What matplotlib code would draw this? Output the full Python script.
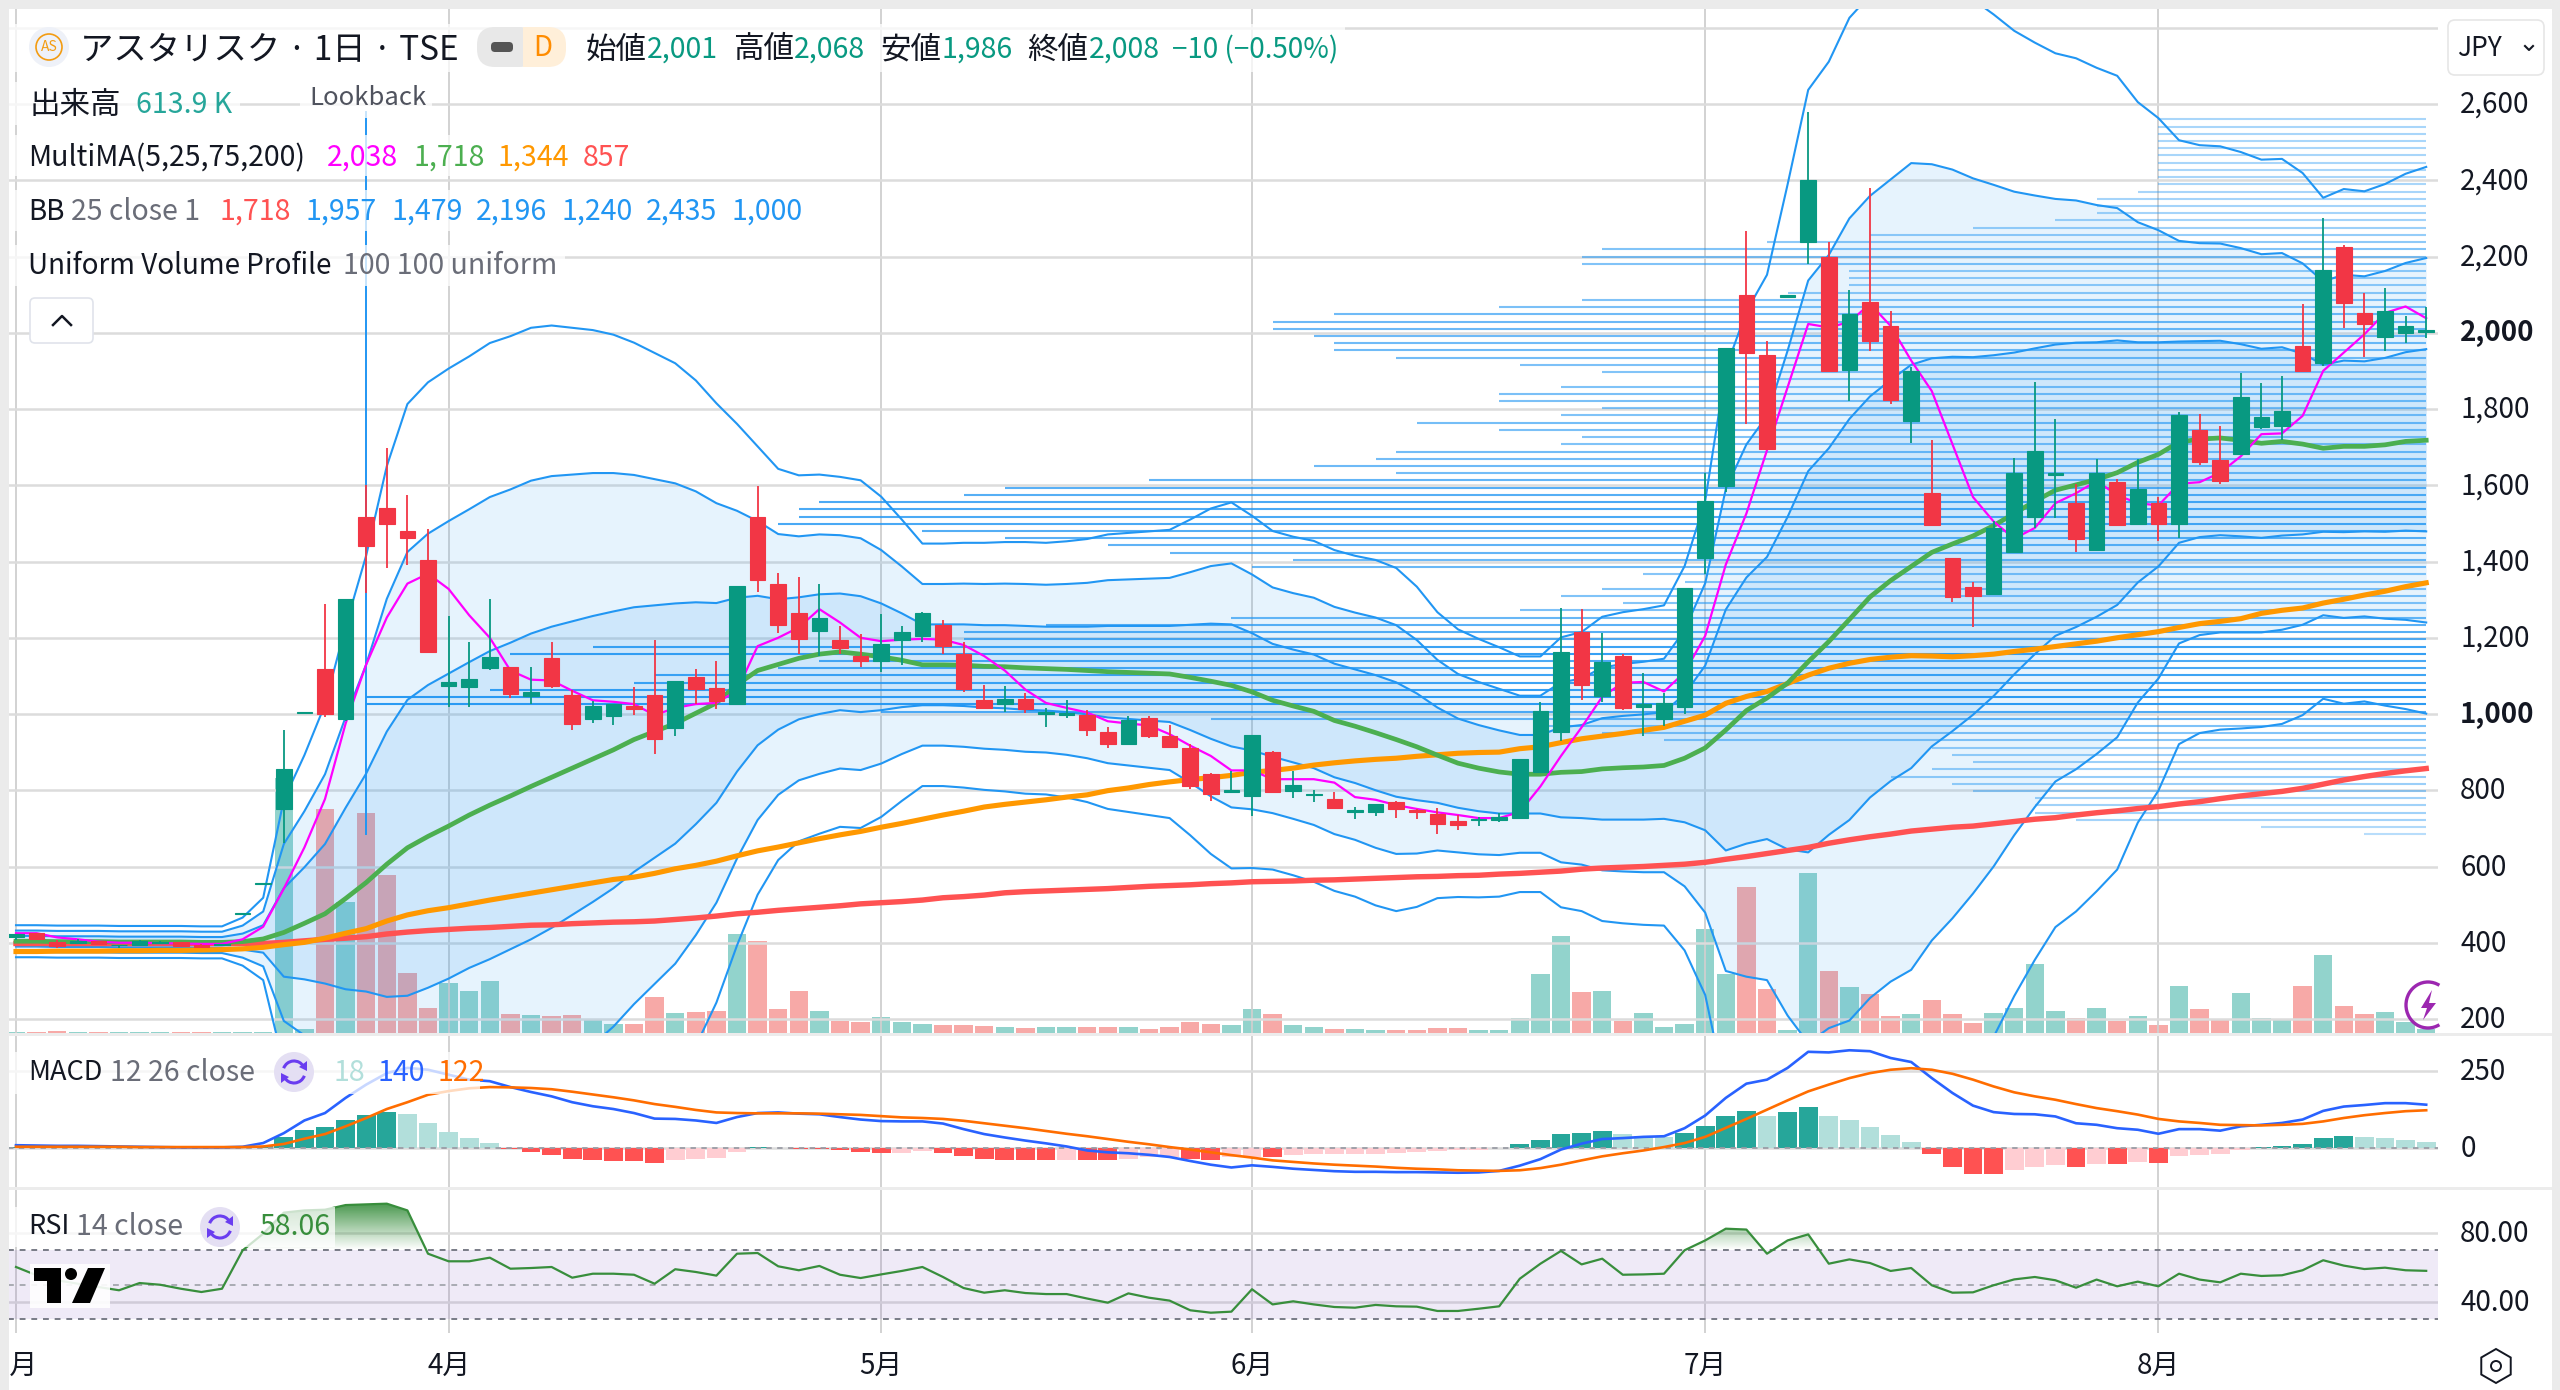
import numpy as np
import matplotlib
matplotlib.use('Agg')
import matplotlib.pyplot as plt
from matplotlib.colors import LinearSegmentedColormap
from matplotlib.patches import Rectangle, Circle, Arc, FancyBboxPatch, Polygon, RegularPolygon
from matplotlib.path import Path
from matplotlib.transforms import ScaledTranslation

plt.rcParams['font.family'] = ['Noto Sans CJK JP', 'DejaVu Sans']

month_bars = [0, 21, 42, 60, 82, 104]
month_labels = ['3月', '4月', '5月', '6月', '7月', '8月']

opens = [414, 426, 403, 399, 405, 393, 394, 400, 402, 393, 395, 475, 554, 751, 1002, 1118, 988, 1517, 1541, 1480,
         1404, 1074, 1071, 1120, 1122, 1047, 1148, 1051, 986, 994, 1021, 1051, 963, 1098, 1067, 1026, 1517, 1341, 1266, 1219,
         1194, 1151, 1139, 1194, 1204, 1233, 1157, 1037, 1026, 1040, 1001, 997, 997, 952, 921, 989, 943, 910, 842, 796,
         784, 901, 799, 787, 778, 742, 743, 770, 748, 737, 719, 721, 721, 727, 849, 954, 1214, 1046, 1151, 1019,
         988, 1018, 1408, 1599, 2098, 1941, 2095, 2238, 2199, 1902, 2081, 2019, 1768, 1579, 1408, 1334, 1315, 1424, 1517, 1628,
         1553, 1430, 1608, 1499, 1553, 1499, 1745, 1665, 1681, 1753, 1756, 1964, 1921, 2225, 2051, 1990, 1999, 2001]
highs = [423, 426, 408, 409, 405, 395, 407, 404, 402, 398, 397, 479, 558, 957, 1006, 1288, 1302, 1601, 1697, 1574,
         1486, 1256, 1188, 1302, 1122, 1122, 1188, 1062, 1034, 1026, 1071, 1195, 1087, 1119, 1138, 1336, 1599, 1371, 1359, 1341,
         1231, 1211, 1262, 1231, 1267, 1247, 1188, 1077, 1074, 1054, 1016, 1036, 1011, 965, 994, 994, 970, 921, 845, 850,
         944, 904, 850, 801, 795, 756, 764, 772, 751, 754, 735, 730, 740, 881, 1032, 1279, 1275, 1213, 1158, 1107,
         1054, 1331, 1633, 1959, 2266, 1979, 2100, 2579, 2238, 2111, 2379, 2058, 1911, 1718, 1408, 1346, 1505, 1672, 1872, 1774,
         1603, 1668, 1617, 1668, 1569, 1793, 1788, 1755, 1895, 1868, 1887, 2076, 2301, 2231, 2103, 2117, 2044, 2068]
lows = [407, 409, 387, 398, 398, 385, 392, 399, 392, 390, 392, 475, 554, 662, 1002, 991, 981, 1318, 1382, 1390,
        1163, 1018, 1019, 1116, 1041, 1026, 1068, 958, 976, 971, 998, 894, 943, 1027, 1013, 1026, 1321, 1213, 1157, 1152,
        1157, 1122, 1110, 1128, 1188, 1157, 1057, 1015, 1004, 1003, 967, 989, 941, 911, 921, 937, 911, 804, 772, 792,
        733, 796, 780, 768, 754, 724, 732, 727, 725, 685, 695, 706, 718, 727, 844, 929, 1036, 1031, 1010, 943,
        969, 999, 1366, 1582, 1761, 1695, 2095, 2181, 1900, 1820, 1953, 1812, 1711, 1497, 1293, 1229, 1312, 1424, 1489, 1515,
        1424, 1430, 1494, 1499, 1454, 1462, 1654, 1603, 1681, 1748, 1720, 1900, 1913, 2012, 1937, 1953, 1973, 1986]
closes = [423, 409, 392, 405, 398, 395, 404, 403, 392, 390, 397, 479, 558, 856, 1006, 1001, 1302, 1441, 1499, 1461,
          1163, 1085, 1093, 1150, 1052, 1058, 1074, 974, 1020, 1026, 1012, 935, 1087, 1066, 1035, 1336, 1352, 1234, 1198, 1251,
          1172, 1139, 1184, 1216, 1264, 1179, 1066, 1017, 1040, 1012, 1004, 1002, 958, 921, 985, 941, 913, 810, 789, 800,
          944, 796, 813, 790, 754, 747, 764, 750, 744, 711, 710, 724, 730, 881, 1009, 1162, 1076, 1137, 1017, 1025,
          1029, 1331, 1560, 1959, 1948, 1695, 2098, 2400, 1900, 2050, 1978, 1823, 1900, 1497, 1307, 1309, 1489, 1631, 1689, 1631,
          1459, 1633, 1497, 1591, 1499, 1785, 1662, 1611, 1831, 1778, 1795, 1900, 2164, 2079, 2024, 2057, 2018, 2008]

# volume in thousands of shares
volumes = [225, 225, 375, 225, 225, 225, 225, 225, 225, 225, 225, 225, 225, 38250, 600, 33600, 19650, 33000, 23700, 9000,
           3750, 7500, 6300, 7800, 2850, 2700, 2550, 2700, 1950, 1350, 1350, 5400, 3000, 3150, 3300, 14850, 13800, 3600, 6300, 3300,
           1800, 1650, 2400, 1650, 1350, 1200, 1200, 1050, 900, 750, 975, 900, 900, 975, 900, 675, 900, 1650, 1350, 1200,
           3600, 2850, 1200, 900, 675, 675, 450, 525, 450, 750, 750, 450, 450, 2250, 8850, 14550, 6150, 6300, 1800, 3000,
           900, 1350, 15600, 8850, 21900, 6600, 450, 24000, 9300, 6900, 5850, 2550, 2850, 4950, 2850, 1500, 3000, 3750, 10350, 3300,
           2250, 3750, 1800, 2550, 1200, 7050, 3600, 1950, 6000, 2250, 1950, 7050, 11700, 4050, 2850, 3150, 1650, 614]

ma5 = [425, 425, 414, 409, 403, 400, 400, 399, 398, 397, 397, 409, 442, 542, 650, 777, 975, 1130, 1253, 1342,
       1368, 1328, 1259, 1200, 1114, 1090, 1088, 1061, 1036, 1032, 1026, 997, 1016, 1026, 1029, 1061, 1178, 1200, 1227, 1275,
       1240, 1200, 1191, 1195, 1197, 1195, 1181, 1152, 1114, 1064, 1029, 1016, 1004, 981, 975, 970, 947, 917, 890, 852,
       852, 829, 829, 829, 820, 782, 775, 761, 751, 742, 735, 727, 727, 743, 810, 890, 965, 1045, 1082, 1084,
       1059, 1109, 1205, 1392, 1526, 1692, 1857, 2023, 2014, 2028, 2076, 2018, 1927, 1847, 1708, 1569, 1505, 1460, 1488, 1553,
       1579, 1611, 1574, 1553, 1547, 1604, 1608, 1633, 1676, 1734, 1736, 1782, 1900, 1948, 1996, 2052, 2069, 2038]
ma25 = [404, 404, 403, 403, 403, 402, 402, 402, 402, 401, 401, 403, 410, 427, 451, 476, 516, 558, 606, 649,
        679, 706, 735, 761, 785, 810, 834, 858, 882, 906, 933, 954, 975, 1002, 1029, 1077, 1114, 1130, 1146, 1157,
        1163, 1157, 1150, 1141, 1129, 1129, 1128, 1125, 1124, 1121, 1119, 1117, 1114, 1111, 1109, 1107, 1105, 1096, 1086, 1075,
        1058, 1036, 1021, 1007, 983, 968, 951, 933, 914, 892, 871, 858, 848, 842, 842, 847, 849, 856, 859, 861,
        865, 884, 911, 958, 1009, 1042, 1081, 1137, 1190, 1248, 1307, 1350, 1387, 1424, 1446, 1467, 1494, 1526, 1558, 1587,
        1601, 1615, 1633, 1660, 1681, 1713, 1721, 1724, 1718, 1710, 1715, 1708, 1697, 1702, 1702, 1706, 1715, 1718]
ma75 = [377, 377, 378, 378, 378, 379, 379, 380, 380, 381, 382, 384, 388, 395, 401, 412, 425, 437, 457, 473,
        484, 492, 502, 512, 521, 530, 539, 548, 557, 566, 572, 582, 594, 603, 614, 628, 641, 651, 662, 673,
        683, 692, 703, 713, 724, 735, 745, 756, 763, 769, 775, 782, 788, 799, 806, 815, 822, 828, 833, 839,
        847, 852, 858, 866, 872, 877, 881, 884, 889, 893, 897, 899, 900, 909, 914, 925, 935, 942, 949, 957,
        965, 981, 997, 1028, 1046, 1059, 1080, 1102, 1120, 1133, 1143, 1149, 1153, 1152, 1150, 1153, 1157, 1164, 1170, 1177,
        1184, 1191, 1200, 1208, 1216, 1227, 1237, 1243, 1250, 1264, 1272, 1278, 1291, 1301, 1312, 1322, 1334, 1344]
ma200 = [398, 398, 398, 398, 398, 398, 398, 398, 398, 398, 398, 398, 398, 401, 405, 409, 412, 416, 423, 428,
         432, 435, 438, 440, 443, 446, 447, 450, 452, 454, 455, 457, 461, 465, 470, 476, 480, 485, 489, 493,
         497, 502, 505, 508, 512, 518, 521, 525, 531, 534, 536, 538, 540, 542, 545, 548, 550, 552, 555, 557,
         560, 561, 562, 564, 565, 567, 569, 571, 573, 574, 576, 577, 580, 582, 585, 588, 593, 596, 598, 600,
         603, 606, 611, 619, 626, 634, 642, 650, 661, 670, 678, 685, 693, 698, 703, 706, 712, 718, 724, 728,
         735, 741, 746, 752, 757, 764, 770, 778, 785, 791, 797, 805, 816, 827, 836, 844, 851, 857]
# one standard deviation of the 25-bar bands
bb_sigma = [14, 14, 14, 14, 14, 14, 14, 14, 14, 14, 14, 21, 36, 116, 147, 183, 238, 286, 348, 388,
            397, 400, 401, 404, 402, 401, 395, 385, 375, 363, 347, 331, 315, 291, 262, 228, 196, 171, 160, 157,
            153, 152, 140, 123, 106, 106, 107, 108, 109, 110, 110, 112, 115, 120, 122, 124, 126, 138, 151, 160,
            154, 148, 148, 149, 149, 149, 151, 150, 140, 125, 117, 113, 109, 103, 103, 118, 122, 133, 136, 138,
            140, 168, 216, 316, 349, 370, 436, 500, 507, 526, 526, 526, 529, 509, 491, 469, 447, 422, 401, 382,
            373, 360, 347, 315, 294, 264, 257, 255, 252, 248, 247, 237, 219, 225, 223, 228, 234, 239]

macd_line = [9, 8, 7, 7, 6, 5, 4, 3, 2, 2, 2, 4, 16, 48, 89, 113, 162, 205, 242, 259,
             253, 237, 221, 216, 197, 181, 167, 148, 135, 126, 113, 95, 94, 89, 81, 100, 113, 115, 111, 109,
             100, 92, 87, 86, 86, 79, 61, 45, 34, 24, 15, 5, -8, -14, -17, -22, -29, -42, -54, -63,
             -56, -61, -67, -71, -75, -77, -77, -78, -78, -79, -80, -79, -74, -57, -36, -5, 14, 29, 32, 36,
             38, 64, 105, 162, 208, 221, 259, 311, 309, 316, 313, 291, 278, 226, 178, 137, 116, 110, 109, 102,
             80, 75, 64, 59, 46, 61, 61, 56, 70, 75, 81, 92, 120, 134, 139, 145, 145, 140]
macd_signal = [4, 4, 4, 4, 4, 4, 3, 3, 3, 3, 3, 3, 5, 13, 30, 45, 70, 97, 126, 148,
               172, 184, 193, 197, 196, 194, 190, 182, 173, 164, 154, 142, 133, 123, 115, 113, 112, 112, 112, 111,
               109, 107, 103, 99, 97, 94, 88, 80, 72, 64, 55, 46, 38, 29, 20, 12, 3, -5, -14, -23,
               -31, -40, -45, -50, -54, -57, -60, -64, -67, -69, -72, -73, -74, -72, -65, -54, -40, -27, -17, -8,
               3, 16, 36, 65, 94, 124, 154, 183, 205, 226, 242, 253, 258, 253, 240, 221, 199, 180, 167, 156,
               142, 129, 119, 108, 94, 86, 81, 75, 74, 73, 75, 78, 86, 97, 106, 113, 119, 122]
macd_hist = [2, 2, 1, 1, 1, -1, -1, -1, -1, -1, -1, 1, 6, 36, 59, 68, 92, 108, 116, 111,
             81, 53, 33, 17, -3, -14, -23, -34, -40, -41, -43, -48, -40, -34, -33, -14, 3, 1, -2, -3,
             -8, -14, -17, -16, -11, -17, -26, -34, -38, -39, -40, -38, -39, -40, -34, -29, -28, -37, -38, -29,
             -28, -30, -22, -21, -20, -20, -18, -15, -12, -11, -8, -6, -1, 12, 27, 46, 50, 56, 46, 38,
             36, 50, 70, 105, 121, 105, 116, 134, 105, 91, 68, 41, 20, -20, -61, -84, -85, -72, -61, -55,
             -61, -52, -53, -46, -47, -26, -23, -19, -8, 2, 5, 12, 32, 38, 34, 32, 26, 18]
rsi = [60.3, 55.5, 52.6, 50.6, 48.7, 46.8, 51.0, 50.0, 47.7, 45.8, 47.7, 69.9, 79.6, 91.8, 93.1, 93.5, 96.2, 96.6, 97.0, 93.1,
       68.0, 63.6, 63.6, 65.7, 59.3, 59.7, 60.3, 54.1, 56.4, 56.4, 55.8, 50.6, 59.0, 57.4, 55.3, 68.0, 68.4, 60.7, 58.4, 60.9,
       55.8, 53.9, 56.0, 58.0, 60.3, 54.5, 48.1, 45.4, 46.8, 45.2, 44.6, 44.6, 42.0, 39.6, 45.0, 42.5, 40.8, 35.2, 33.8, 34.4,
       47.4, 38.6, 40.4, 38.6, 37.1, 36.7, 38.3, 37.5, 37.3, 34.8, 34.8, 36.1, 37.5, 53.5, 62.2, 69.6, 61.8, 65.1, 55.8, 56.0,
       56.4, 70.0, 75.7, 82.5, 82.0, 68.0, 75.7, 79.2, 62.2, 64.7, 62.6, 58.0, 59.7, 49.7, 45.4, 45.6, 49.7, 53.1, 54.5, 52.6,
       48.3, 53.0, 49.1, 51.8, 49.1, 56.4, 53.0, 51.4, 56.4, 55.1, 55.5, 58.4, 64.2, 61.1, 59.1, 59.9, 58.4, 58.06]

# uniform profile, lowest row first, row length in bars
vp_volume = [3, 8, 17, 19, 19, 19, 22, 23, 26, 24, 22, 23, 24, 37, 40, 43, 59, 75, 100, 100,
             94, 87, 86, 80, 78, 93, 89, 71, 71, 67, 58, 44, 39, 42, 40, 36, 38, 57, 55, 61,
             64, 69, 73, 80, 79, 79, 78, 71, 69, 62, 50, 54, 51, 50, 42, 41, 45, 49, 42, 40,
             45, 45, 42, 33, 40, 44, 50, 53, 53, 54, 56, 56, 53, 45, 41, 31, 28, 28, 28, 41,
             41, 40, 32, 27, 22, 18, 16, 16, 16, 14, 13, 13, 13, 13, 13, 13, 13, 13, 13, 13]
vp_low = 684.5
vp_high = 2578.6
lookback_bar = 17

price_ticks = list(range(200, 2801, 200))

UP = '#089981'
DOWN = '#F23645'
BLUE = '#2196F3'
GRID = '#dcdcdc'
VGRID = '#cfcfcf'
GREY = '#6a6d78'

o, h, l, c = map(np.array, (opens, highs, lows, closes))
x = np.arange(len(closes))
mid = np.array(ma25, dtype=float)
sigma = np.array(bb_sigma, dtype=float)
rsi_arr = np.array(rsi)
W, H = 2560, 1390


def pane(top, bottom):
    return fig.add_axes([8 / W, 1 - bottom / H, 2430 / W, (bottom - top) / H])


fig = plt.figure(figsize=(W / 100, H / 100), dpi=100, facecolor='white')
ax_vol = pane(9, 1033)
ax = pane(9, 1033)
ax_macd = pane(1036, 1188)
ax_rsi = pane(1189, 1333)

x_lo, x_hi = (8 - 16) / 20.6, (2438 - 16) / 20.6
for a in (ax, ax_macd, ax_rsi):
    a.set_xlim(x_lo, x_hi)
    for s in a.spines.values():
        s.set_visible(False)
    a.yaxis.tick_right()
    a.set_axisbelow(True)
    a.set_xticks(month_bars)
    a.grid(axis='x', color=VGRID, lw=1.3, zorder=0)
    a.grid(axis='y', color=GRID, lw=1.8, zorder=0)
    a.tick_params(length=0, labelbottom=False, labelright=True, labelsize=20, pad=16, labelcolor='#131722')

# main pane
ax.set_ylim(2600 - (1033 - 104) / 0.38125, 2600 + (104 - 9) / 0.38125)
ax.set_yticks(price_ticks)
ax.set_yticklabels(['' if p == 2800 else f'{p:,}' for p in price_ticks])
for lab, p in zip(ax.get_yticklabels(), price_ticks):
    if p in (1000, 2000):
        lab.set_fontweight('bold')

ax_vol.set_xlim(x_lo, x_hi)
ax_vol.set_ylim(0, 1024 * 150)
ax_vol.axis('off')
ax_vol.set_zorder(1)
ax.set_zorder(2)
ax.patch.set_visible(False)
vol_col = ['#92D3CC' if cl >= op else '#F7A9A7' for op, cl in zip(opens, closes)]
ax_vol.bar(x, volumes, width=0.9, color=vol_col)

# bollinger bands
ax.fill_between(x, mid + 2 * sigma, mid - 2 * sigma, color=BLUE, alpha=0.11, lw=0, zorder=1)
ax.fill_between(x, mid + sigma, mid - sigma, color=BLUE, alpha=0.12, lw=0, zorder=1)
for k in (1, 2, 3):
    ax.plot(x, mid + k * sigma, color=BLUE, lw=1.5, zorder=2)
    ax.plot(x, mid - k * sigma, color=BLUE, lw=1.5, zorder=2)

# volume profile rows
vp_rows = np.linspace(vp_low, vp_high, len(vp_volume) + 1)[:-1]
vp_max = max(vp_volume)
for row, vol in zip(vp_rows, vp_volume):
    ax.plot([x[-1] - vol, x[-1]], [row, row], color=BLUE, lw=1.5, alpha=0.3 + 0.65 * vol / vp_max,
            solid_capstyle='butt', zorder=3)
ax.plot([lookback_bar, lookback_bar], [vp_low, vp_high], color=BLUE, lw=1.4, zorder=3)

# moving averages
ax.plot(x, ma200, color='#FF5252', lw=3.9, zorder=4)
ax.plot(x, ma75, color='#FF9800', lw=3.7, zorder=4)
ax.plot(x, ma25, color='#4CAF50', lw=3.4, zorder=4)
ax.plot(x, ma5, color='#FF00FF', lw=1.6, zorder=4)

# candles
col = [UP if cl >= op else DOWN for op, cl in zip(opens, closes)]
ax.vlines(x, l, h, colors=col, lw=1.3, zorder=5)
ax.bar(x, np.abs(c - o), bottom=np.minimum(o, c), width=0.76, color=col, edgecolor=col, lw=0.8, zorder=5)

# macd pane
ax_macd.set_ylim(-(1188 - 1148) * 3.233, (1148 - 1036) * 3.233)
ax_macd.set_yticks([0, 250])
hist_col = []
for i, v in enumerate(macd_hist):
    prev = macd_hist[i - 1] if i else 0
    if v >= 0:
        hist_col.append('#26A69A' if v > prev else '#B2DFDB')
    else:
        hist_col.append('#FF5252' if v < prev else '#FFCDD2')
ax_macd.bar(x, macd_hist, width=0.92, color=hist_col, zorder=2)
ax_macd.axhline(0, color='#9a9ca5', lw=1.3, ls=(0, (3, 3)), zorder=3)
ax_macd.plot(x, macd_line, color='#2962FF', lw=1.9, zorder=4)
ax_macd.plot(x, macd_signal, color='#FF6D00', lw=1.9, zorder=4)

# rsi pane
ax_rsi.set_ylim(80 - 100 * 0.5797, 80 + 44 * 0.5797)
ax_rsi.set_yticks([40, 80])
ax_rsi.set_yticklabels(['40.00', '80.00'])
ax_rsi.axhspan(30, 70, color='#7E57C2', alpha=0.12, lw=0, zorder=1)
for lev, shade in ((70, '#787B86'), (50, '#a9abb3'), (30, '#787B86')):
    ax_rsi.axhline(lev, color=shade, lw=1.4, ls=(0, (3, 3)), zorder=2)
over = ax_rsi.fill_between(x, 70, rsi_arr, where=rsi_arr >= 70, interpolate=True, facecolor='none', lw=0)
clip = Path.make_compound_path(*over.get_paths())
green_fade = LinearSegmentedColormap.from_list('fade', [(0.22, 0.56, 0.24, 0.0), (0.22, 0.56, 0.24, 0.95)])
grad = ax_rsi.imshow(np.linspace(1, 0, 64).reshape(-1, 1), cmap=green_fade, vmin=0, vmax=1, aspect='auto',
                     extent=(x_lo, x_hi, 70, 98), zorder=2)
grad.set_clip_path(clip, transform=ax_rsi.transData)
ax_rsi.set_xlim(x_lo, x_hi)
ax_rsi.set_ylim(80 - 100 * 0.5797, 80 + 44 * 0.5797)
ax_rsi.plot(x, rsi, color='#388E3C', lw=1.6, zorder=3)

# nudge price labels up a little, the CJK font sits low
nudge = ScaledTranslation(0, 2.5 / 100, fig.dpi_scale_trans)
for a in (ax, ax_macd, ax_rsi):
    for lab in a.get_yticklabels():
        lab.set_transform(lab.get_transform() + nudge)

# overlay in pixel coordinates for the chart furniture
ui = fig.add_axes([0, 0, 1, 1], zorder=10)
ui.set_xlim(0, W)
ui.set_ylim(H, 0)
ui.axis('off')

ui.add_patch(Rectangle((0, 0), W, 9, color='#ebebeb', lw=0))
ui.add_patch(Rectangle((0, 0), 9, H, color='#ebebeb', lw=0))
ui.add_patch(Rectangle((2552, 0), 8, H, color='#ebebeb', lw=0))
ui.add_patch(Rectangle((8, 1033), 2544, 3, color='#ececec', lw=0))
ui.add_patch(Rectangle((8, 1187), 2544, 2.5, color='#ececec', lw=0))

for lab_x, lab in zip(month_bars, month_labels):
    ui.text(16 + 20.6 * lab_x, 1365.5, lab, ha='center', va='center', fontsize=20, color='#131722', zorder=1)
ui.add_patch(Rectangle((0, 1340), 9, 50, color='#ebebeb', lw=0, zorder=2))

# white backing behind legend rows
for (x0, y0, x1, y1) in ((9, 24, 1345, 72), (9, 82, 240, 125), (300, 78, 432, 118), (9, 135, 635, 176),
                         (9, 190, 805, 231), (9, 245, 565, 286), (9, 1052, 480, 1094), (9, 1207, 335, 1247)):
    ui.add_patch(Rectangle((x0, y0), x1 - x0, y1 - y0, color='white', alpha=0.75, lw=0))


def label(px, py, s, color='#131722', size=20.5, **kw):
    ui.text(px, py, s, color=color, fontsize=size, va='center', ha='left', **kw)


TEAL = '#089981'
label(80, 50, 'アスタリスク · 1日 · TSE', size=24)
ui.add_patch(Circle((49, 47), 20, color='#eef1f8', lw=0))
ui.add_patch(Circle((49, 47), 13, fill=False, ec='#F39C12', lw=1.2))
ui.text(49, 47, 'AS', color='#F39C12', fontsize=10, ha='center', va='center')
ui.add_patch(FancyBboxPatch((523, 27), 43, 40, boxstyle='round,pad=0,rounding_size=18', color='#FFEFD9', lw=0))
ui.add_patch(Rectangle((523, 27), 20, 40, color='#FFEFD9', lw=0))
ui.add_patch(FancyBboxPatch((477, 27), 60, 40, boxstyle='round,pad=0,rounding_size=18', color='#e8e8e8', lw=0))
ui.add_patch(Rectangle((523, 27), 16, 40, color='#FFEFD9', lw=0))
ui.add_patch(FancyBboxPatch((491, 42), 22, 10, boxstyle='round,pad=0,rounding_size=4', color='#555', lw=0))
ui.text(543, 48, 'D', color='#FF8C00', fontsize=20, ha='center', va='center')

for tx, name, vx, val in ((586, '始値', 647, '2,001'), (733, '高値', 794, '2,068'),
                          (880, '安値', 941, '1,986'), (1027, '終値', 1089, '2,008')):
    label(tx, 50, name, size=22)
    label(vx, 50, val, TEAL)
label(1172, 50, '−10 (−0.50%)', TEAL, size=20)

label(30, 105, '出来高', size=22)
label(136, 105, '613.9 K', '#26A69A')
label(309, 98, 'Lookback', '#50535E', size=18.5)

label(28, 158, 'MultiMA(5,25,75,200)')
for vx, val, colr in ((327, '2,038', '#FF00FF'), (413, '1,718', '#4CAF50'), (498, '1,344', '#FF9800'), (583, '857', '#FF5252')):
    label(vx, 158, val, colr)

label(28, 212, 'BB', size=20)
label(71, 212, '25 close 1', GREY)
for vx, val, colr in ((220, '1,718', '#FF5252'), (306, '1,957', BLUE), (391, '1,479', BLUE), (476, '2,196', BLUE),
                      (562, '1,240', BLUE), (646, '2,435', BLUE), (732, '1,000', BLUE)):
    label(vx, 212, val, colr)

label(28, 266, 'Uniform Volume Profile', size=20)
label(343, 266, '100 100 uniform', GREY)

ui.add_patch(FancyBboxPatch((30, 298), 63, 45, boxstyle='round,pad=0,rounding_size=5', fc='white', ec='#e0e3eb', lw=1.2))
ui.plot([53, 62, 71], [325, 316, 325], color='#131722', lw=1.8)

label(28, 1073, 'MACD', size=19.5)
label(110, 1073, '12 26 close', GREY)
label(334, 1073, '18', '#B2DFDB')
label(378, 1073, '140', '#2962FF')
label(438, 1073, '122', '#FF6D00')

label(28, 1227, 'RSI', size=19.5)
label(76, 1227, '14 close', GREY)
label(259, 1227, '58.06', '#388E3C')

for cx, cy in ((294, 1072), (220, 1227)):
    ui.add_patch(Circle((cx, cy), 20, color='#E4DFF3', lw=0))
    ui.add_patch(Arc((cx, cy), 22, 22, theta1=20, theta2=150, color='#6A3DF0', lw=2.2))
    ui.add_patch(Arc((cx, cy), 22, 22, theta1=200, theta2=330, color='#6A3DF0', lw=2.2))
    ui.add_patch(Polygon([(cx + 13, cy - 11), (cx + 13, cy - 1), (cx + 5, cy - 5)], color='#6A3DF0', lw=0))
    ui.add_patch(Polygon([(cx - 13, cy + 11), (cx - 13, cy + 1), (cx - 5, cy + 5)], color='#6A3DF0', lw=0))

# tradingview mark
ui.add_patch(Rectangle((30, 1264), 80, 44, color='white', alpha=0.9, lw=0))
ui.add_patch(Polygon([(34, 1268), (61, 1268), (61, 1303), (47, 1303), (47, 1281), (34, 1281)], color='black', lw=0))
ui.add_patch(Circle((71, 1274), 6, color='black', lw=0))
ui.add_patch(Polygon([(88, 1268), (105, 1268), (90, 1303), (72, 1303)], color='black', lw=0))

# currency box and settings
ui.add_patch(FancyBboxPatch((2448, 20), 96, 55, boxstyle='round,pad=0,rounding_size=7', fc='white', ec='#e6e6e6', lw=1.2))
label(2457, 48, 'JPY', size=19)
ui.plot([2525, 2529, 2533], [46, 50, 46], color='#131722', lw=1.5)
ui.add_patch(RegularPolygon((2496, 1366), 6, radius=17, fill=False, ec='#131722', lw=1.4))
ui.add_patch(Circle((2496, 1366), 5, fill=False, ec='#131722', lw=1.4))

# bolt badge at the pane edge
ui.add_patch(Arc((2428, 1005), 44, 46, theta1=60, theta2=300, color='#9C27B0', lw=2.4))
ui.add_patch(Polygon([(2432, 990), (2421, 1008), (2427, 1008), (2423, 1020), (2436, 1003), (2429, 1003)],
                     color='#9C27B0', lw=0))

fig.savefig('out.png', dpi=100, facecolor='white')
